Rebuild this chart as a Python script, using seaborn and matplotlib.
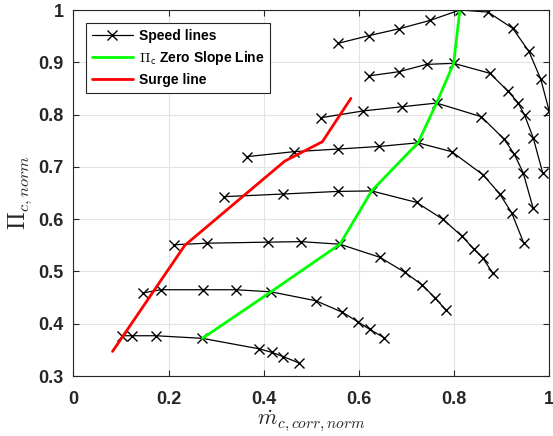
import numpy as np
import pandas as pd
import seaborn as sns
import matplotlib
matplotlib.use("Agg")
import matplotlib.pyplot as plt
from matplotlib.lines import Line2D

# ---- data ----
s1_x = [0.555, 0.621, 0.684, 0.749, 0.812, 0.871, 0.923, 0.957, 0.982, 1.0]
s1_y = [0.936, 0.951, 0.964, 0.980, 1.0, 0.996, 0.965, 0.921, 0.868, 0.806]

s2_x = [0.621, 0.684, 0.742, 0.799, 0.875, 0.913, 0.934, 0.948, 0.966, 0.986]
s2_y = [0.874, 0.882, 0.896, 0.898, 0.879, 0.845, 0.823, 0.799, 0.756, 0.689]

s3_x = [0.520, 0.609, 0.691, 0.763, 0.857, 0.905, 0.926, 0.945, 0.966]
s3_y = [0.794, 0.807, 0.815, 0.822, 0.796, 0.753, 0.725, 0.689, 0.621]

s4_x = [0.364, 0.463, 0.555, 0.642, 0.724, 0.795, 0.861, 0.896, 0.921, 0.946]
s4_y = [0.7195, 0.729, 0.734, 0.739, 0.746, 0.729, 0.6845, 0.648, 0.612, 0.555]

s5_x = [0.316, 0.4395, 0.555, 0.6265, 0.721, 0.776, 0.817, 0.841, 0.860, 0.881]
s5_y = [0.643, 0.648, 0.653, 0.654, 0.632, 0.600, 0.567, 0.543, 0.526, 0.497]

s6_x = [0.212, 0.280, 0.408, 0.478, 0.560, 0.644, 0.696, 0.733, 0.759, 0.783]
s6_y = [0.551, 0.554, 0.556, 0.557, 0.552, 0.527, 0.4985, 0.474, 0.450, 0.426]

s7_x = [0.1466, 0.183, 0.273, 0.341, 0.415, 0.509, 0.565, 0.597, 0.623, 0.653]
s7_y = [0.459, 0.465, 0.465, 0.465, 0.461, 0.444, 0.422, 0.404, 0.389, 0.373]

s8_x = [0.1025, 0.124, 0.173, 0.271, 0.390, 0.4176, 0.441, 0.474]
s8_y = [0.377, 0.377, 0.377, 0.372, 0.352, 0.345, 0.337, 0.325]

zero_slope_x = [0.271, 0.415, 0.560, 0.6265, 0.724, 0.763, 0.799, 0.812]
zero_slope_y = [0.372, 0.461, 0.552, 0.654, 0.746, 0.822, 0.898, 1.0]

surge_x = [0.082, 0.234, 0.444, 0.523, 0.583]
surge_y = [0.347, 0.550, 0.711, 0.748, 0.831]

x_ticks = [0, 0.2, 0.4, 0.6, 0.8, 1.0]
x_ticklabels = ["0", "0.2", "0.4", "0.6", "0.8", "1"]
y_ticks = [0.3, 0.4, 0.5, 0.6, 0.7, 0.8, 0.9, 1.0]
y_ticklabels = ["0.3", "0.4", "0.5", "0.6", "0.7", "0.8", "0.9", "1"]

legend_labels = ["Speed lines", r"$\Pi_{\mathsf{c}}$ Zero Slope Line", "Surge line"]

# ---- build long-form table ----
speed = [(s1_x, s1_y), (s2_x, s2_y), (s3_x, s3_y), (s4_x, s4_y),
         (s5_x, s5_y), (s6_x, s6_y), (s7_x, s7_y), (s8_x, s8_y)]
rows = []
for i, (xs, ys) in enumerate(speed):
    for j, (a, b) in enumerate(zip(xs, ys)):
        rows.append({"line": i, "order": j, "m": a, "pi": b})
df_speed = pd.DataFrame(rows)
df_zero = pd.DataFrame({"m": zero_slope_x, "pi": zero_slope_y})
df_surge = pd.DataFrame({"m": surge_x, "pi": surge_y})

# ---- style ----
sns.set_theme(style="whitegrid")
plt.rcParams["font.family"] = ["Liberation Sans", "DejaVu Sans"]
plt.rcParams["mathtext.fontset"] = "cm"
plt.rcParams["axes.unicode_minus"] = False

fig = plt.figure(figsize=(5.53, 4.36), dpi=100)
ax = fig.add_axes([73.5 / 553, 1 - 376 / 436, (549.3 - 73.5) / 553, (376 - 10) / 436])

sns.lineplot(data=df_speed, x="m", y="pi", units="line", estimator=None, sort=False,
             color="black", lw=0.9, marker="x", markersize=6.5,
             markeredgecolor="black", markeredgewidth=1.0, legend=False, ax=ax, zorder=3)
sns.lineplot(data=df_zero, x="m", y="pi", sort=False, estimator=None,
             color="#00ff00", lw=2.0, legend=False, ax=ax, zorder=4)
sns.lineplot(data=df_surge, x="m", y="pi", sort=False, estimator=None,
             color="#ff0000", lw=2.0, legend=False, ax=ax, zorder=5)

ax.set_xlim(0, 1)
ax.set_ylim(0.3, 1)
ax.set_xticks(x_ticks)
ax.set_xticklabels(x_ticklabels)
ax.set_yticks(y_ticks)
ax.set_yticklabels(y_ticklabels)
for lab in ax.get_xticklabels() + ax.get_yticklabels():
    lab.set_fontweight("bold")
    lab.set_fontsize(13)
    lab.set_color("#262626")

ax.tick_params(direction="in", length=4, width=0.8, color="#262626",
               top=True, right=True, bottom=True, left=True)
ax.tick_params(axis="x", pad=10.5)
ax.tick_params(axis="y", pad=7)
ax.grid(True, color="#e3e3e3", lw=0.8)
for sp in ax.spines.values():
    sp.set_color("#262626")
    sp.set_linewidth(0.8)
    sp.set_zorder(6)
ax.set_facecolor("white")

ax.set_xlabel(r"$\dot{m}_{c,corr,norm}$", fontsize=16, color="#262626", labelpad=1)
ax.set_ylabel(r"$\Pi_{c,norm}$", fontsize=17, color="#262626", labelpad=3)

handles = [
    Line2D([], [], color="black", lw=0.9, marker="x", markersize=6.5, markeredgewidth=1.0),
    Line2D([], [], color="#00ff00", lw=2.0),
    Line2D([], [], color="#ff0000", lw=2.0),
]
leg = ax.legend(handles, legend_labels, loc="upper left",
                bbox_to_anchor=((85.7 - 73.5) / 476, (376 - 22.7) / 366),
                borderaxespad=0, fancybox=False, framealpha=1, edgecolor="#262626",
                handlelength=3.0, handletextpad=0.4, labelspacing=0.45,
                borderpad=0.42, prop={"weight": "bold", "size": 10.0})
leg.get_frame().set_linewidth(0.8)
leg.set_zorder(10)
for t in leg.get_texts():
    t.set_color("#000000")

fig.savefig("out.png", dpi=100)
